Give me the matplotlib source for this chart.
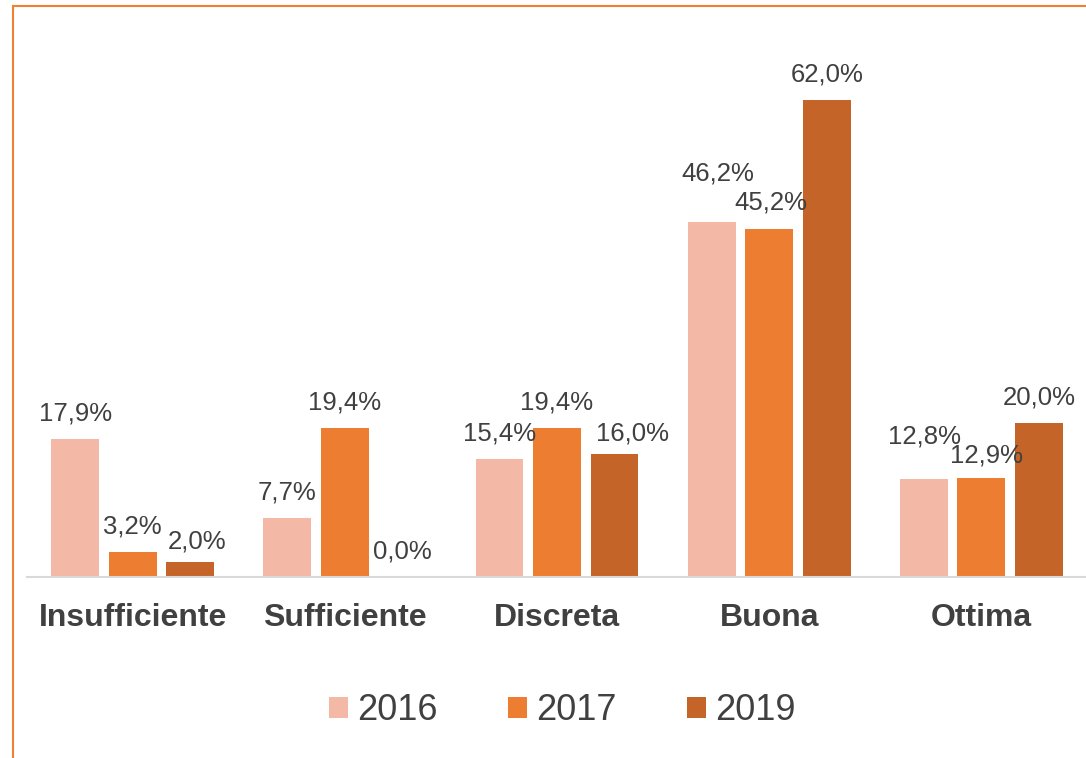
import matplotlib
matplotlib.use("Agg")
import matplotlib.pyplot as plt
from matplotlib.lines import Line2D
import numpy as np

plt.rcParams["font.family"] = ["Liberation Sans", "DejaVu Sans"]

categories = ["Insufficiente", "Sufficiente", "Discreta", "Buona", "Ottima"]
years = ["2016", "2017", "2019"]
v2016 = [17.9, 7.7, 15.4, 46.2, 12.8]
v2017 = [3.2, 19.4, 19.4, 45.2, 12.9]
v2019 = [2.0, 0.0, 16.0, 62.0, 20.0]

COLOURS = ["#F4B8A6", "#ED7D31", "#C46428"]
INK = "#404040"
BORDER = "#EE8234"

# label nudges (dx, dy) in pixels where the original layout moved labels
NUDGE = {
    (2, 0): (6.5, -5.5),
    (2, 2): (18, -5.5),
    (0, 3): (6.5, 22.5),
    (1, 3): (2, 1),
    (0, 4): (0.5, 16.5),
    (1, 4): (5.5, -3.5),
}

W, H = 1086, 758
fig = plt.figure(figsize=(W / 100, H / 100), dpi=100)
ax = fig.add_axes([26.5 / W, 181 / H, 1061 / W, 538.6 / H])

x = np.arange(len(categories))
width = 0.226
step = 0.271
series = [v2016, v2017, v2019]
for i, (vals, year) in enumerate(zip(series, years)):
    xs = x + (i - 1) * step
    ax.bar(xs, vals, width, color=COLOURS[i], label=year, zorder=2)
    for j, (xx, v) in enumerate(zip(xs, vals)):
        dx, dy = NUDGE.get((i, j), (0, 0))
        ax.annotate(f"{v:.1f}%".replace(".", ","), (xx, v),
                    xytext=(dx * 0.72, (25.5 + dy) * 0.72),
                    textcoords="offset points", ha="center", va="center",
                    fontsize=18.5, color=INK)

ax.set_xlim(-0.5, 4.5)
ax.set_ylim(0, 70)
ax.set_yticks([])
ax.set_xticks(x, labels=categories)
ax.tick_params(axis="x", length=0, pad=19, labelsize=23, labelcolor=INK)
for lab in ax.get_xticklabels():
    lab.set_fontweight("bold")
for s in ["top", "right", "left"]:
    ax.spines[s].set_visible(False)
ax.spines["bottom"].set_color("#D9D9D9")
ax.spines["bottom"].set_linewidth(1.5)

leg = fig.legend(loc="center", bbox_to_anchor=(562 / W, 1 - 711 / H),
                 ncol=3, frameon=False, fontsize=26, handlelength=0.53,
                 handleheight=0.53, handletextpad=0.25, columnspacing=1.95)
for t in leg.get_texts():
    t.set_color(INK)

# orange chart frame (left and top edges visible)
fig.add_artist(Line2D([13 / W, 13 / W], [0, 1 - 6 / H], color=BORDER, lw=1.5,
                      transform=fig.transFigure))
fig.add_artist(Line2D([13 / W, 1], [1 - 6 / H, 1 - 6 / H], color=BORDER, lw=1.5,
                      transform=fig.transFigure))

fig.savefig("out.png", dpi=100)
